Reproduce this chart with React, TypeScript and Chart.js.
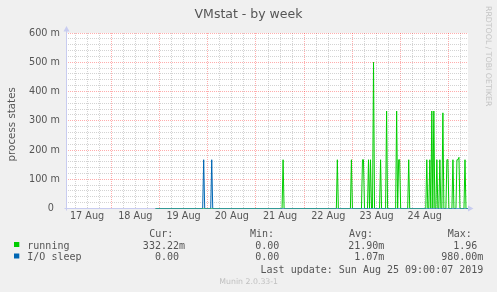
import React, { useEffect, useRef } from 'react';
import { Chart, registerables } from 'chart.js';

Chart.register(...registerables);

// ---- Data (hours counted from 17 Aug 00:00) ----
const chartTitle = 'VMstat - by week';
const yAxisTitle = 'process states';
const watermark = 'RRDTOOL / TOBI OETIKER';
const footer = 'Munin 2.0.33-1';
const lastUpdate = 'Last update: Sun Aug 25 09:00:07 2019';

const xMinHour = 1.5;
const xMaxHour = 201.5;
const xTickHours = [12, 36, 60, 84, 108, 132, 156, 180];
const xTickLabels = ['17 Aug', '18 Aug', '19 Aug', '20 Aug', '21 Aug', '22 Aug', '23 Aug', '24 Aug'];

const yTickValues = [0, 0.1, 0.2, 0.3, 0.4, 0.5, 0.6];
const yTickLabels = ['0', '100 m', '200 m', '300 m', '400 m', '500 m', '600 m'];

const dataStart = 46;
const dataEnd = 201.5;

const runningTimes = [
  109.5, 136.5, 143.5, 149, 149.5, 152, 153, 154.5, 158, 161, 166, 167, 167.5, 172,
  181, 182.5, 183.5, 184.5, 186, 187.5, 189, 191, 191.5, 194, 196, 196.5, 197, 200,
];
const runningValues = [
  0.1667, 0.1667, 0.1667, 0.1667, 0.1667, 0.1667, 0.1667, 0.5, 0.1667, 0.3333, 0.3333, 0.1667, 0.1667, 0.1667,
  0.1667, 0.1667, 0.3333, 0.3333, 0.1667, 0.1667, 0.327, 0.1667, 0.1667, 0.1667, 0.1667, 0.1667, 0.175, 0.1667,
];
const ioSleepTimes = [70, 74];
const ioSleepValues = [0.1667, 0.1667];

const seriesNames = ['running', 'I/O sleep'];
const seriesColors = ['#00CC00', '#0066B3'];
const legendHeaders = ['Cur:', 'Min:', 'Avg:', 'Max:'];
const curValues = ['332.22m', '0.00 '];
const minValues = ['0.00 ', '0.00 '];
const avgValues = ['21.90m', '1.07m'];
const maxValues = ['1.96 ', '980.00m'];

function buildSeries(times: number[], values: number[], start: number, end: number) {
  const pts: { x: number; y: number }[] = [{ x: start, y: 0 }];
  for (let i = 0; i < times.length; i++) {
    const t = times[i];
    const prevAdj = i > 0 && Math.abs(times[i - 1] - (t - 0.5)) < 1e-9;
    const nextAdj = i < times.length - 1 && Math.abs(times[i + 1] - (t + 0.5)) < 1e-9;
    if (!prevAdj) pts.push({ x: t - 0.5, y: 0 });
    pts.push({ x: t, y: values[i] });
    if (!nextAdj) pts.push({ x: t + 0.5, y: 0 });
  }
  pts.push({ x: end, y: 0 });
  return pts;
}

const TEXT = '#555555';
const MAJOR = 'rgba(255,0,0,0.32)';
const MINOR = 'rgba(140,140,140,0.38)';
const AXIS = '#C8CCF0';

const decorPlugin = {
  id: 'muninDecor',
  beforeDraw(chart: any) {
    const { ctx, chartArea } = chart;
    ctx.save();
    ctx.fillStyle = '#F0F0F0';
    ctx.fillRect(0, 0, chart.width, chart.height);
    ctx.fillStyle = '#FFFFFF';
    ctx.fillRect(chartArea.left, chartArea.top, chartArea.right - chartArea.left, chartArea.bottom - chartArea.top);
    ctx.restore();
  },
  beforeDatasetsDraw(chart: any) {
    const { ctx, chartArea } = chart;
    const { left, right, top } = chartArea;
    const by = Math.floor(chartArea.bottom) + 0.5;
    const lx = Math.floor(left) + 0.5;
    ctx.save();
    ctx.strokeStyle = AXIS;
    ctx.fillStyle = AXIS;
    ctx.lineWidth = 1;
    ctx.beginPath();
    ctx.moveTo(lx, by + 2);
    ctx.lineTo(lx, top - 4);
    ctx.moveTo(lx - 2, by);
    ctx.lineTo(right + 2, by);
    ctx.stroke();
    // arrows
    ctx.beginPath();
    ctx.moveTo(lx, top - 7);
    ctx.lineTo(lx - 3, top - 1.5);
    ctx.lineTo(lx + 3, top - 1.5);
    ctx.closePath();
    ctx.fill();
    ctx.beginPath();
    ctx.moveTo(right + 5.5, by);
    ctx.lineTo(right, by - 3);
    ctx.lineTo(right, by + 3);
    ctx.closePath();
    ctx.fill();
    ctx.restore();
  },
  afterDraw(chart: any) {
    const { ctx } = chart;
    ctx.save();
    ctx.fillStyle = TEXT;
    ctx.textBaseline = 'alphabetic';
    // title
    ctx.font = '12.5px "DejaVu Sans"';
    ctx.textAlign = 'center';
    ctx.fillText(chartTitle, 248.5, 18.3);
    // y axis title
    ctx.save();
    ctx.translate(15.3, 124.3);
    ctx.rotate(-Math.PI / 2);
    ctx.font = '10.3px "DejaVu Sans"';
    ctx.textAlign = 'center';
    ctx.fillText(yAxisTitle, 0, 0);
    ctx.restore();
    // watermark
    ctx.save();
    ctx.translate(485.7, 6);
    ctx.rotate(Math.PI / 2);
    ctx.font = '7.8px "DejaVu Sans"';
    ctx.fillStyle = '#C4C4C4';
    ctx.textAlign = 'left';
    ctx.fillText(watermark, 0, 0);
    ctx.restore();
    // legend
    ctx.font = '10px "DejaVu Sans Mono"';
    ctx.textAlign = 'left';
    const headerX = [149.3, 250, 349, 447.7];
    legendHeaders.forEach((h, i) => ctx.fillText(h, headerX[i], 237));
    const rowY = [248.5, 260];
    const squareY = [242, 253.5];
    const colRight = [185, 285.3, 384.3, 483.3];
    const cols = [curValues, minValues, avgValues, maxValues];
    seriesNames.forEach((name, r) => {
      ctx.fillStyle = seriesColors[r];
      ctx.fillRect(14, squareY[r], 5.3, 5);
      ctx.fillStyle = TEXT;
      ctx.textAlign = 'left';
      ctx.fillText(name, 27.3, rowY[r]);
      ctx.textAlign = 'right';
      cols.forEach((col, c) => ctx.fillText(col[r], colRight[c], rowY[r]));
    });
    ctx.textAlign = 'right';
    ctx.fillText(lastUpdate, 483.3, 273);
    // footer
    ctx.font = '7.8px "DejaVu Sans"';
    ctx.fillStyle = '#C0C0C0';
    ctx.textAlign = 'center';
    ctx.fillText(footer, 248.7, 284.3);
    ctx.restore();
  },
};

const isMajorY = (v: number) => Math.abs(v * 10 - Math.round(v * 10)) < 1e-6;

export default function App() {
  const canvasRef = useRef<HTMLCanvasElement | null>(null);

  useEffect(() => {
    document.body.style.margin = '0';
    const canvas = canvasRef.current;
    if (!canvas) return;
    const chart = new Chart(canvas, {
      type: 'line',
      data: {
        datasets: [
          {
            label: seriesNames[1],
            data: buildSeries(ioSleepTimes, ioSleepValues, dataStart, dataEnd),
            borderColor: seriesColors[1],
            borderWidth: 1,
            pointRadius: 0,
            tension: 0,
            fill: false,
          },
          {
            label: seriesNames[0],
            data: buildSeries(runningTimes, runningValues, dataStart, dataEnd),
            borderColor: seriesColors[0],
            borderWidth: 1,
            pointRadius: 0,
            tension: 0,
            fill: false,
          },
        ],
      },
      options: {
        animation: false,
        responsive: false,
        devicePixelRatio: 1,
        events: [],
        layout: { padding: { top: 33, left: 0, right: 29, bottom: 63.5 } },
        plugins: { legend: { display: false }, tooltip: { enabled: false }, title: { display: false } },
        scales: {
          x: {
            type: 'linear',
            min: xMinHour,
            max: xMaxHour,
            afterFit: (s: any) => { s.height = 20; },
            afterBuildTicks: (s: any) => {
              const ticks = [];
              for (let h = 6; h < xMaxHour; h += 6) ticks.push({ value: h });
              s.ticks = ticks;
            },
            grid: {
              display: true,
              drawTicks: false,
              lineWidth: 1,
              color: (c: any) => (c.tick && c.tick.value % 24 === 0 ? MAJOR : MINOR),
            },
            border: { display: false, dash: [1, 1] },
            ticks: {
              autoSkip: false,
              maxRotation: 0,
              padding: 2,
              color: TEXT,
              font: { family: 'DejaVu Sans', size: 9.7 },
              callback: (v: any) => {
                const i = xTickHours.indexOf(Number(v));
                return i >= 0 ? xTickLabels[i] : '';
              },
            },
          },
          y: {
            type: 'linear',
            min: 0,
            max: 0.6,
            afterFit: (s: any) => { s.width = 66; },
            afterBuildTicks: (s: any) => {
              const ticks = [];
              for (let k = 0; k <= 30; k++) ticks.push({ value: k / 50 });
              s.ticks = ticks;
            },
            grid: {
              display: true,
              drawTicks: false,
              lineWidth: 1,
              color: (c: any) => (c.tick && isMajorY(c.tick.value) ? MAJOR : MINOR),
            },
            border: { display: false, dash: [1, 1] },
            ticks: {
              autoSkip: false,
              padding: 6,
              color: TEXT,
              font: { family: 'DejaVu Sans', size: 9.7 },
              callback: (v: any) => {
                const i = yTickValues.findIndex((t) => Math.abs(t - Number(v)) < 1e-9);
                if (i < 0) return '';
                return i === 0 ? yTickLabels[i] + '  ' : yTickLabels[i];
              },
            },
          },
        },
      },
      plugins: [decorPlugin],
    });
    return () => chart.destroy();
  }, []);

  return (
    <div style={{ position: 'absolute', left: 0, top: 0, width: 497, height: 292 }}>
      <canvas ref={canvasRef} width={497} height={292} />
    </div>
  );
}
